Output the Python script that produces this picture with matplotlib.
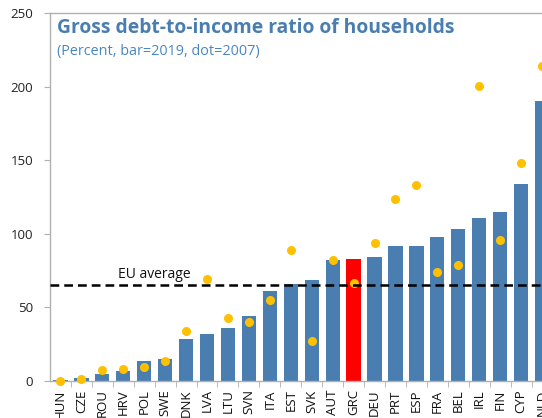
import numpy as np
import matplotlib.pyplot as plt

countries = ['HUN', 'CZE', 'ROU', 'HRV', 'POL', 'SWE', 'DNK', 'LVA', 'LTU', 'SVN',
             'ITA', 'EST', 'SVK', 'AUT', 'GRC', 'DEU', 'PRT', 'ESP', 'FRA', 'BEL',
             'IRL', 'FIN', 'CYP', 'NLD']
ratio_2019 = [0.5, 2.2, 5.0, 7.0, 13.3, 15.0, 28.2, 31.8, 36.1, 44.0,
              61.2, 65.7, 68.4, 82.0, 82.7, 84.0, 92.0, 92.0, 97.5, 103.2,
              110.9, 114.5, 133.5, 190.0]
ratio_2007 = [0.0, 1.3, 7.2, 8.0, 9.7, 13.5, 33.9, 69.6, 43.0, 40.0,
              55.3, 88.7, 27.3, 82.0, 66.4, 93.5, 123.7, 133.3, 73.8, 78.6,
              200.3, 95.5, 148.0, 213.9]
eu_average = 65
highlight = 'GRC'

blue = '#4a7eb0'
gold = '#ffc000'
grey = '#b0b0b0'

plt.rcParams['font.family'] = ['Open Sans', 'DejaVu Sans']

fig = plt.figure(figsize=(5.42, 4.18), dpi=100)
ax = fig.add_axes([50 / 542, 37 / 418, 492 / 542, 368 / 418])

x = np.arange(len(countries))
colors = ['#ff0000' if c == highlight else blue for c in countries]
ax.bar(x, ratio_2019, width=0.68, color=colors, zorder=2)
ax.plot(x, ratio_2007, 'o', color=gold, ms=5.5, zorder=3, clip_on=False)

ax.axhline(eu_average, color='black', ls=(0, (3.5, 2)), lw=1.8, zorder=4)
ax.text(4.5, eu_average + 2.5, 'EU average', ha='center', va='bottom',
        fontsize=10, color='#111111')

ax.set_xlim(-0.5, 23.0)
ax.set_ylim(0, 250)
ax.set_yticks([0, 50, 100, 150, 200, 250])
ax.set_xticks(x)
ax.set_xticklabels(countries, rotation=90, fontsize=9.5, color='#111111')
ax.set_xticks(x[:-1] + 0.5, minor=True)
ax.tick_params(axis='x', which='major', length=0, pad=6)
ax.tick_params(axis='x', which='minor', length=4, color=grey)
ax.tick_params(axis='y', length=4, color=grey, labelsize=9.5, labelcolor='#222222', pad=8)

for s in ['left', 'bottom', 'top']:
    ax.spines[s].set_color(grey)
    ax.spines[s].set_linewidth(1.0)
ax.spines['right'].set_visible(False)

fig.text(57 / 542, 1 - 28 / 418, 'Gross debt-to-income ratio of households',
         fontsize=13.9, fontweight='bold', color=blue, va='center', ha='left')
fig.text(57 / 542, 1 - 51 / 418, '(Percent, bar=2019, dot=2007)',
         fontsize=10.4, color='#4a86c0', va='center', ha='left')

fig.savefig('out.png', dpi=100)
